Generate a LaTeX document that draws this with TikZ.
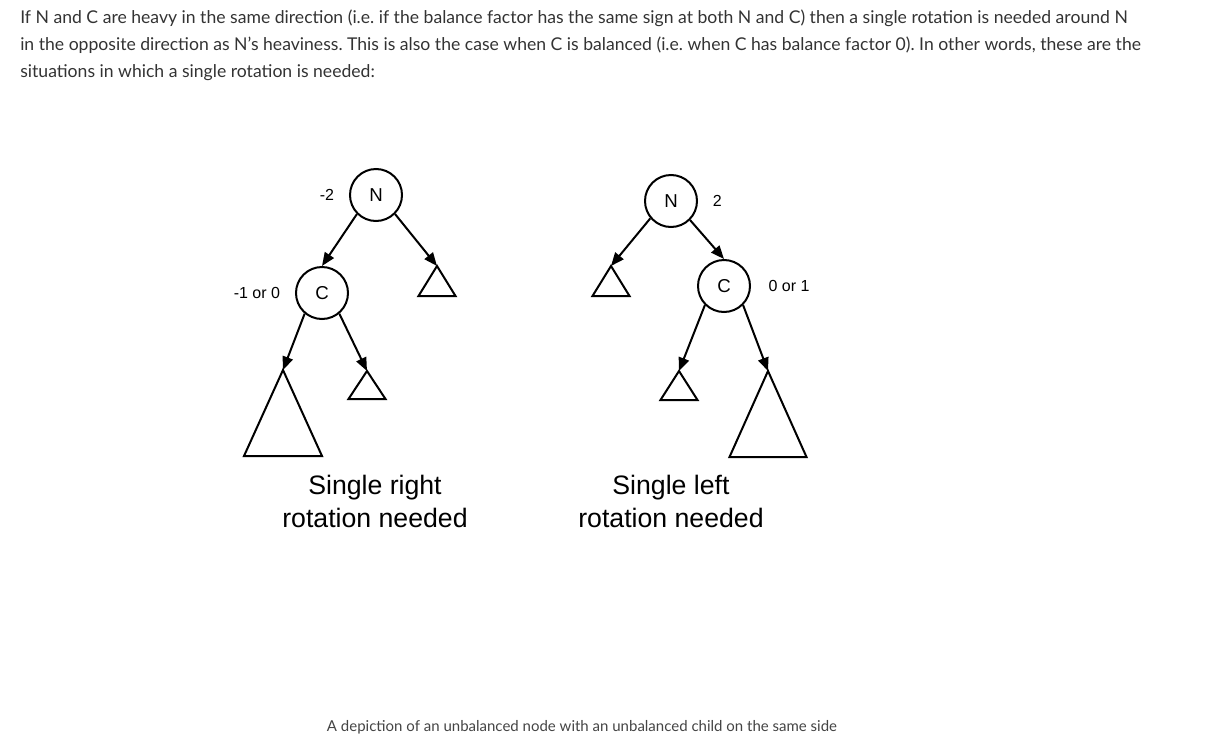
\documentclass[tikz,border=0pt]{standalone}
\usepackage{fontspec}
\setmainfont{Lato}
\newfontfamily\diagfont{Liberation Sans}
\usetikzlibrary{arrows.meta,positioning}
\definecolor{bodygray}{HTML}{333333}
\definecolor{capgray}{HTML}{444444}
\frenchspacing

\begin{document}
\begin{tikzpicture}[
    x=0.75pt, y=-0.75pt,
    vertex/.style={
        circle, draw=black, line width=1.5pt,
        minimum size=39pt, inner sep=0pt,
        font=\diagfont\fontsize{14}{16}\selectfont
    },
    factor/.style={
        inner sep=0pt,
        font=\diagfont\fontsize{12}{14}\selectfont
    },
    subtree/.style={draw=black, line width=1.5pt},
    edge/.style={-{Triangle[length=10pt,width=8pt]}, line width=1.5pt},
    verdict/.style={
        align=center,
        font=\diagfont\fontsize{20}{24.75}\selectfont
    },
    prose/.style={
        anchor=base west, inner sep=0pt, text=bodygray,
        font=\fontsize{13.2}{20}\selectfont
    }
]
\useasboundingbox (0,0) rectangle (1229,750);

% Intro text
\node[prose] (line1) at (20,23) {If N and C are heavy in the same direction (i.e.\ if the balance factor has the same sign at both N and C) then a single rotation is needed around N};
\node[prose] (line2) at (20,50) {in the opposite direction as N’s heaviness. This is also the case when C is balanced (i.e.\ when C has balance factor 0). In other words, these are the};
\node[prose] (line3) at (20,77) {situations in which a single rotation is needed:};

% Left-heavy tree
\node[vertex] (nL) at (376,195) {N};
\node[vertex] (cL) at (322,293) {C};
\node[factor, left=11pt of nL] {-2};
\node[factor, left=11pt of cL] {-1 or 0};

\coordinate (tLr) at (437,266);
\coordinate (tLa) at (283,370);
\coordinate (tLb) at (367,371);
\draw[subtree] (tLr) -- ++(18.5,30) -- ++(-37,0) -- cycle;
\draw[subtree] (tLa) -- ++(39,86) -- ++(-78,0) -- cycle;
\draw[subtree] (tLb) -- ++(18.5,28) -- ++(-37,0) -- cycle;

\draw[edge] (nL.225) -- (cL.north);
\draw[edge] (nL.-45) -- (tLr);
\draw[edge] (cL.230) -- (tLa);
\draw[edge] (cL.-50) -- (tLb);

% Right-heavy tree
\node[vertex] (nR) at (671,201) {N};
\node[vertex] (cR) at (724,286) {C};
\node[factor, right=11pt of nR] {2};
\node[factor, right=13pt of cR] {0 or 1};

\coordinate (tRl) at (611,266);
\coordinate (tRa) at (679,371);
\coordinate (tRb) at (768,371);
\draw[subtree] (tRl) -- ++(18.5,30) -- ++(-37,0) -- cycle;
\draw[subtree] (tRa) -- ++(18.5,29) -- ++(-37,0) -- cycle;
\draw[subtree] (tRb) -- ++(38.5,86) -- ++(-77,0) -- cycle;

\draw[edge] (nR.220) -- (tRl);
\draw[edge] (nR.-45) -- (cR.north);
\draw[edge] (cR.225) -- (tRa);
\draw[edge] (cR.-45) -- (tRb);

% Verdicts
\node[verdict] (rotR) at (375,501) {Single right\\rotation needed};
\node[verdict] (rotL) at (671,501) {Single left\\rotation needed};

% Caption
\node[text=capgray, font=\fontsize{11.25}{13}\selectfont] (caption) at (582,727) {A depiction of an unbalanced node with an unbalanced child on the same side};

\end{tikzpicture}
\end{document}
